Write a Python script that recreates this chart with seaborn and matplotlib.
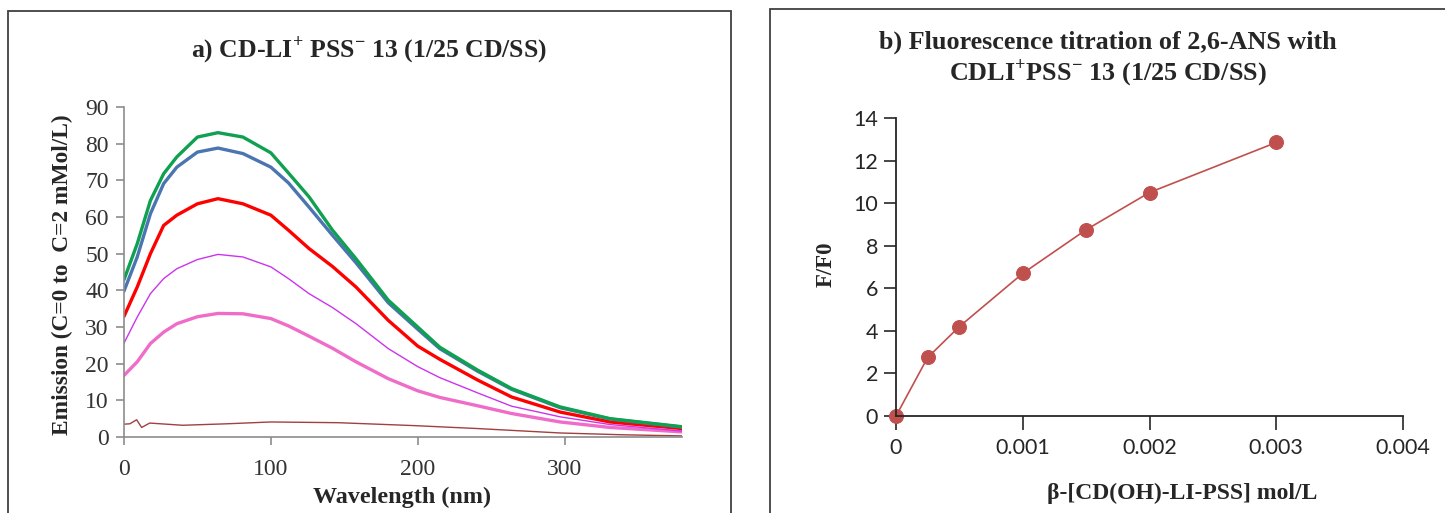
import numpy as np
import pandas as pd
import matplotlib
matplotlib.use("Agg")
import matplotlib.pyplot as plt
from matplotlib.patches import Rectangle
import seaborn as sns

# spectra (wavelength axis as drawn, 0-380)
wl = [0, 9, 18, 27, 36, 50, 64, 81, 100, 112, 126, 142, 158, 180, 200, 215, 241, 264, 297, 331, 380]
green = [42.9, 52.7, 64.5, 71.8, 76.4, 81.8, 83.0, 81.8, 77.5, 72.0, 65.5, 56.4, 48.6, 37.3, 30.0, 24.5, 18.2, 13.2, 8.2, 5.0, 2.8]
blue = [39.8, 49.1, 60.9, 69.1, 73.6, 77.7, 78.8, 77.3, 73.6, 69.3, 62.7, 55.0, 47.5, 36.6, 29.4, 24.1, 17.9, 13.0, 8.0, 4.9, 2.7]
red = [32.9, 40.9, 50.0, 57.7, 60.5, 63.6, 65.0, 63.6, 60.5, 56.4, 51.4, 46.5, 40.9, 31.8, 24.8, 21.2, 15.5, 10.9, 6.8, 4.1, 2.3]
violet = [25.6, 32.7, 39.1, 43.2, 45.9, 48.4, 49.8, 49.1, 46.4, 43.2, 39.1, 35.3, 30.9, 24.1, 19.2, 16.2, 12.0, 8.4, 5.5, 3.4, 1.6]
pink = [16.8, 20.5, 25.5, 28.6, 30.9, 32.8, 33.7, 33.6, 32.3, 30.3, 27.5, 24.2, 20.5, 15.9, 12.6, 10.8, 8.5, 6.4, 4.1, 2.6, 1.4]
wl_blank = [0, 4, 8.6, 12, 17.5, 40, 70, 100, 146, 198, 241, 297, 340, 380]
blank = [3.5, 3.6, 4.7, 2.6, 3.8, 3.2, 3.6, 4.1, 3.9, 3.1, 2.3, 1.1, 0.6, 0.3]

# titration points
conc = [0, 0.00025, 0.0005, 0.001, 0.0015, 0.002, 0.003]
ratio = [0, 2.75, 4.2, 6.7, 8.75, 10.5, 12.85]
conc_ticks = [0, 0.001, 0.002, 0.003, 0.004]
conc_labels = ["0", "0.001", "0.002", "0.003", "0.004"]

sns.set_theme(style="white")
plt.rcParams['font.family'] = ['Liberation Serif', 'DejaVu Serif']
plt.rcParams['mathtext.fontset'] = 'custom'
plt.rcParams['mathtext.rm'] = 'Liberation Serif'
plt.rcParams['mathtext.bf'] = 'Liberation Serif:bold'

fig = plt.figure(figsize=(14.45, 5.13), dpi=100)

# panel frames
fig.add_artist(Rectangle((8 / 1445, -0.05), 723 / 1445, 0.05 + 502 / 513,
                         transform=fig.transFigure, fill=False, ec="#404040", lw=1.3))
fig.add_artist(Rectangle((770 / 1445, -0.05), 0.6, 0.05 + 504 / 513,
                         transform=fig.transFigure, fill=False, ec="#404040", lw=1.3))

# STEP 1 - emission spectra
ax1 = fig.add_axes([124 / 1445, 76 / 513, 558 / 1445, 330 / 513])
spectra = [
    (wl_blank, blank, "#A0403F", 1.0),
    (wl, pink, "#EF6CC8", 2.4),
    (wl, violet, "#CC33EE", 1.0),
    (wl, red, "#FF0000", 2.4),
    (wl, blue, "#4A75B0", 2.4),
    (wl, green, "#0FA050", 2.4),
]
for xs, ys, col, lw in spectra:
    sns.lineplot(x=xs, y=ys, color=col, lw=lw, ax=ax1)

ax1.set_xlim(0, 380)
ax1.set_ylim(0, 90)
ax1.set_xticks([0, 100, 200, 300])
ax1.set_yticks(np.arange(0, 91, 10))
for s in ["top", "right"]:
    ax1.spines[s].set_visible(False)
for s in ["left", "bottom"]:
    ax1.spines[s].set_color("#8c8c8c")
    ax1.spines[s].set_linewidth(1.2)
ax1.tick_params(axis="both", which="major", direction="out", length=6, width=1.2,
                color="#8c8c8c", labelsize=17, labelcolor="#333333",
                left=True, bottom=True, pad=5)
ax1.tick_params(axis="x", pad=10)
ax1.set_xlabel("")
ax1.set_ylabel("")

fig.text(369 / 1445, 1 - 50 / 513,
         r"a) CD-LI$^{\mathbf{+}}$ PSS$^{\mathbf{-}}$ 13 (1/25 CD/SS)",
         ha="center", va="center", fontsize=18.5, fontweight="bold")
fig.text(62 / 1445, 1 - 275 / 513, "Emission (C=0 to  C=2 mMol/L)",
         rotation=90, ha="center", va="center", fontsize=16.8, fontweight="bold")
fig.text(402 / 1445, 1 - 497 / 513, "Wavelength (nm)",
         ha="center", va="center", fontsize=17.4, fontweight="bold")

# STEP 2 - titration curve
ax2 = fig.add_axes([896 / 1445, 97 / 513, 507 / 1445, 298 / 513])
sns.lineplot(x=conc, y=ratio, color="#C0504D", lw=1.2, marker="o", markersize=10,
             markeredgecolor="#C0504D", ax=ax2, clip_on=False)
ax2.set_xlim(0, 0.004)
ax2.set_ylim(0, 14)
ax2.set_xticks(conc_ticks)
ax2.set_xticklabels(conc_labels)
ax2.set_yticks(np.arange(0, 15, 2))
for s in ["top", "right"]:
    ax2.spines[s].set_visible(False)
for s in ["left", "bottom"]:
    ax2.spines[s].set_color("#262626")
    ax2.spines[s].set_linewidth(1.3)
ax2.tick_params(axis="y", direction="out", length=9, width=1.2, color="#262626",
                labelsize=15.5, pad=4, left=True)
ax2.tick_params(axis="x", direction="out", length=10, width=1.2, color="#262626",
                labelsize=15.5, pad=6, bottom=True)
for lab in ax2.get_xticklabels() + ax2.get_yticklabels():
    lab.set_family(["Lato", "DejaVu Sans"])
ax2.set_xlabel("")
ax2.set_ylabel("")

fig.text(1108 / 1445, 1 - 42 / 513, "b) Fluorescence titration of 2,6-ANS with",
         ha="center", va="center", fontsize=18.8, fontweight="bold")
fig.text(1108 / 1445, 1 - 73 / 513,
         r"CDLI$^{\mathbf{+}}$PSS$^{\mathbf{-}}$ 13 (1/25 CD/SS)",
         ha="center", va="center", fontsize=18.8, fontweight="bold")
fig.text(826 / 1445, 1 - 264 / 513, "F/F0", rotation=90,
         ha="center", va="center", fontsize=16.5, fontweight="bold")
fig.text(1182 / 1445, 1 - 493 / 513, "β-[CD(OH)-LI-PSS] mol/L",
         ha="center", va="center", fontsize=17, fontweight="bold")

plt.savefig("out.png", dpi=100)
